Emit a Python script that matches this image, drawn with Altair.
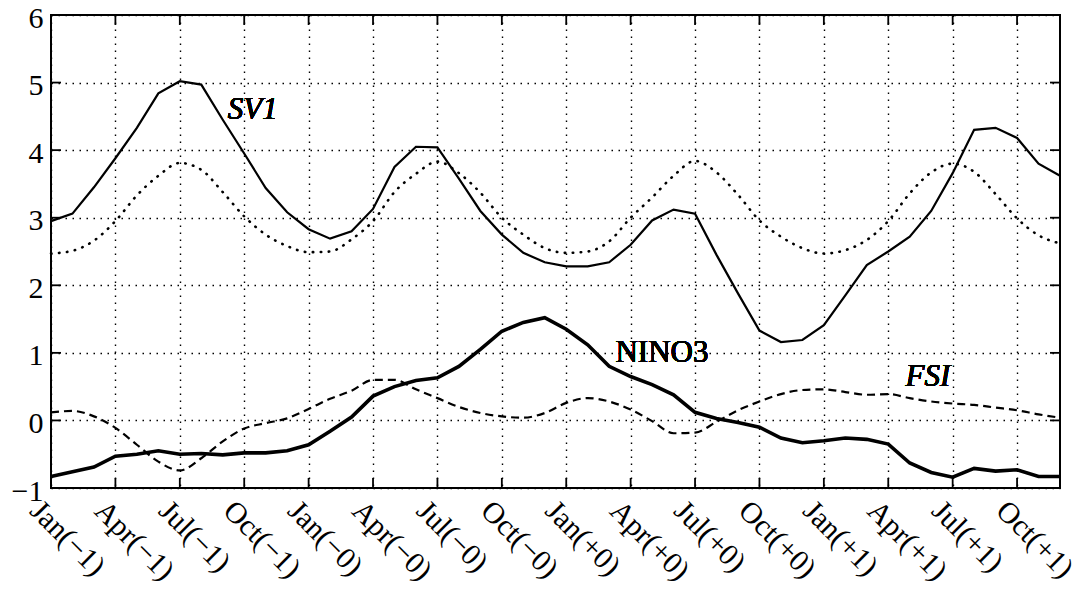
import altair as alt
import pandas as pd

FONT = "Liberation Serif"

months = list(range(48))

sv1 = [2.95, 3.06, 3.45, 3.88, 4.33, 4.84, 5.02, 4.97, 4.45, 3.95, 3.44, 3.08,
       2.83, 2.69, 2.80, 3.13, 3.75, 4.05, 4.04, 3.58, 3.10, 2.75, 2.48, 2.34,
       2.28, 2.28, 2.34, 2.60, 2.96, 3.12, 3.06, 2.45, 1.88, 1.33, 1.16, 1.19,
       1.41, 1.85, 2.30, 2.50, 2.72, 3.10, 3.66, 4.30, 4.33, 4.18, 3.80, 3.62]

clim = [2.47, 2.51, 2.66, 2.95, 3.33, 3.62, 3.81, 3.71, 3.38, 3.02, 2.75, 2.58,
        2.49, 2.50, 2.68, 2.95, 3.38, 3.65, 3.83, 3.66, 3.37, 3.00, 2.75, 2.55,
        2.48, 2.50, 2.65, 3.00, 3.30, 3.62, 3.84, 3.67, 3.34, 2.96, 2.72, 2.55,
        2.47, 2.52, 2.67, 2.95, 3.36, 3.67, 3.80, 3.68, 3.35, 2.99, 2.74, 2.62]

nino3 = [-0.83, -0.76, -0.69, -0.53, -0.50, -0.45, -0.50, -0.49, -0.51, -0.48, -0.48, -0.45,
         -0.36, -0.16, 0.05, 0.36, 0.50, 0.59, 0.63, 0.80, 1.05, 1.32, 1.45, 1.52,
         1.35, 1.12, 0.80, 0.65, 0.53, 0.38, 0.12, 0.03, -0.03, -0.10, -0.26, -0.33,
         -0.30, -0.26, -0.28, -0.35, -0.63, -0.77, -0.84, -0.71, -0.75, -0.73, -0.83, -0.83]

fsi = [0.12, 0.14, 0.06, -0.11, -0.36, -0.61, -0.74, -0.56, -0.31, -0.12, -0.04, 0.03,
       0.17, 0.32, 0.44, 0.60, 0.60, 0.46, 0.33, 0.20, 0.11, 0.06, 0.04, 0.11,
       0.26, 0.33, 0.28, 0.16, -0.01, -0.19, -0.18, -0.02, 0.15, 0.28, 0.39, 0.45,
       0.46, 0.42, 0.38, 0.39, 0.33, 0.28, 0.25, 0.23, 0.19, 0.15, 0.09, 0.04]

x_ticks = [0, 3, 6, 9, 12, 15, 18, 21, 24, 27, 30, 33, 36, 39, 42, 45]
x_labels = ["Jan(\u22121)", "Apr(\u22121)", "Jul(\u22121)", "Oct(\u22121)",
            "Jan(\u22120)", "Apr(\u22120)", "Jul(\u22120)", "Oct(\u22120)",
            "Jan(+0)", "Apr(+0)", "Jul(+0)", "Oct(+0)",
            "Jan(+1)", "Apr(+1)", "Jul(+1)", "Oct(+1)"]
y_ticks = [-1, 0, 1, 2, 3, 4, 5, 6]

rows = []
for name, vals in [("SV1", sv1), ("clim", clim), ("NINO3", nino3), ("FSI", fsi)]:
    for m, v in zip(months, vals):
        rows.append({"month": m, "value": v, "series": name})
df = pd.DataFrame(rows)

label_expr = "[" + ",".join("'" + t + "'" for t in x_labels) + "][round(datum.value/3)]"

x_enc = alt.X("month:Q",
              scale=alt.Scale(domain=[0, 47], nice=False, zero=False),
              axis=alt.Axis(values=x_ticks, labelExpr=label_expr, labelAngle=45,
                            labelAlign="left", labelBaseline="top", labelPadding=7,
                            labelOffset=-6,
                            labelFont=FONT, labelFontSize=30, labelColor="black",
                            labelFlush=False, labelOverlap=False, labelBound=False,
                            grid=True, gridDash=[1.5, 5.5], gridColor="black",
                            gridOpacity=1, gridWidth=1.4,
                            ticks=False, domain=False, title=None))
y_enc = alt.Y("value:Q",
              scale=alt.Scale(domain=[-1, 6], nice=False, zero=False),
              axis=alt.Axis(values=y_ticks, format="d", labelFont=FONT, labelFontSize=30,
                            labelColor="black", labelPadding=8, labelOffset=3,
                            labelFlush=False, labelOverlap=False, labelBound=False,
                            grid=True, gridDash=[1.5, 5.5], gridColor="black",
                            gridOpacity=1, gridWidth=1.4,
                            ticks=False, domain=False, title=None))

base = alt.Chart(df)

clim_line = base.transform_filter("datum.series == 'clim'").mark_line(
    color="black", strokeWidth=2.6, strokeDash=[0.5, 7.5], strokeCap="round",
    interpolate="monotone").encode(x=x_enc, y=y_enc)
sv1_line = base.transform_filter("datum.series == 'SV1'").mark_line(
    color="black", strokeWidth=2.2).encode(x=x_enc, y=y_enc)
nino_line = base.transform_filter("datum.series == 'NINO3'").mark_line(
    color="black", strokeWidth=3.6).encode(x=x_enc, y=y_enc)
fsi_line = base.transform_filter("datum.series == 'FSI'").mark_line(
    color="black", strokeWidth=2.2, strokeDash=[8, 5],
    interpolate="monotone").encode(x=x_enc, y=y_enc)

xt_df = pd.DataFrame({"month": x_ticks})
yt_df = pd.DataFrame({"value": y_ticks})

bottom_ticks = alt.Chart(xt_df).mark_rule(color="black", strokeWidth=1.8, y2Offset=-10).encode(
    x=x_enc, y=alt.datum(-1), y2=alt.datum(-1))
top_ticks = alt.Chart(xt_df).mark_rule(color="black", strokeWidth=1.8, y2Offset=10).encode(
    x=x_enc, y=alt.datum(6), y2=alt.datum(6))
left_ticks = alt.Chart(yt_df).mark_rule(color="black", strokeWidth=1.8, x2Offset=10).encode(
    y=y_enc, x=alt.datum(0), x2=alt.datum(0))
right_ticks = alt.Chart(yt_df).mark_rule(color="black", strokeWidth=1.8, x2Offset=-10).encode(
    y=y_enc, x=alt.datum(47), x2=alt.datum(47))

sv1_text = alt.Chart(xt_df).mark_text(text="SV1", font=FONT, fontSize=31, fontStyle="italic",
                                       fontWeight="normal", color="black").encode(
    x=alt.datum(9.4), y=alt.datum(4.6))
nino_text = alt.Chart(xt_df).mark_text(text="NINO3", font=FONT, fontSize=31,
                                        fontWeight="normal", color="black").encode(
    x=alt.datum(28.46), y=alt.datum(1.0))
fsi_text = alt.Chart(xt_df).mark_text(text="FSI", font=FONT, fontSize=31, fontStyle="italic",
                                       fontWeight="normal", color="black").encode(
    x=alt.datum(40.85), y=alt.datum(0.64))

chart = alt.layer(
    clim_line, sv1_line, nino_line, fsi_line,
    bottom_ticks, top_ticks, left_ticks, right_ticks,
    sv1_text, nino_text, fsi_text
).properties(
    width=1009, height=473,
    autosize=alt.AutoSizeParams(type="none"),
    padding={"left": 51, "top": 15, "right": 25, "bottom": 103},
    background="white"
).configure_view(stroke="black", strokeWidth=2)

chart.save("out.html", embed_options={"renderer": "svg", "actions": False})
